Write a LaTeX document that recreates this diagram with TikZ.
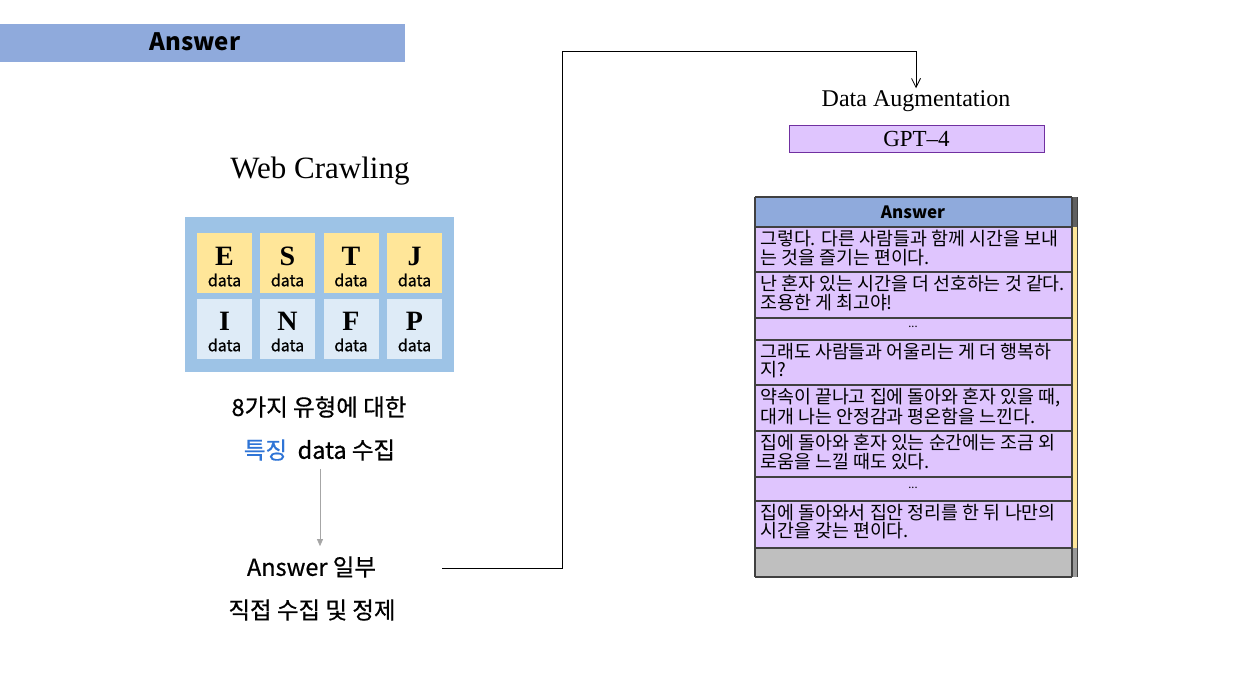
\documentclass[tikz,border=0pt]{standalone}
\usepackage{fontspec}
\setmainfont{Liberation Serif}
\newfontfamily\kr{Noto Sans CJK KR}
\newfontfamily\krb[FakeBold=0.6]{Noto Sans CJK KR}
\usetikzlibrary{arrows.meta}
\definecolor{banner}{HTML}{8FAADC}
\definecolor{outerbox}{HTML}{9DC3E6}
\definecolor{cellyel}{HTML}{FFE699}
\definecolor{cellblu}{HTML}{DEEBF7}
\definecolor{lav}{HTML}{DFC5FE}
\definecolor{purp}{HTML}{7030A0}
\definecolor{tline}{HTML}{404040}
\definecolor{featblue}{HTML}{2E74D6}
\definecolor{botgray}{HTML}{BFBFBF}
\tikzset{
  cellbox/.style={minimum width=55pt,minimum height=60pt,inner sep=0pt,draw=none},
  letter/.style={font=\fontsize{28}{28}\selectfont\bfseries,inner sep=0pt},
  datalbl/.style={font=\krb\fontsize{16}{16}\selectfont,inner sep=0pt},
  krtext/.style={font=\krb\fontsize{23.5}{23.5}\selectfont,inner sep=0pt},
  rowtxt/.style={font=\kr\fontsize{18.4}{18.5}\selectfont,inner sep=0pt,anchor=north west,align=left},
  dots/.style={font=\kr\fontsize{11}{11}\selectfont,inner sep=0pt},
  rowline/.style={draw=tline,line width=1.2pt},
}
\begin{document}
\begin{tikzpicture}[x=1pt,y=-1pt]
\useasboundingbox (0,0) rectangle (1250,690);
% top banner
\fill[banner] (0,24) rectangle (405,62);
\node[font=\kr\fontsize{24}{24}\selectfont\bfseries,inner sep=0pt] (title) at (195,42) {Answer};
% web crawling
\node[font=\fontsize{31}{31}\selectfont,inner sep=0pt] (web) at (320,171) {Web Crawling};
\fill[outerbox] (185,217) rectangle (454,372);
\foreach \x/\L/\n in {224.5/E/e,287.5/S/s,351/T/t,414.5/J/j}{
  \node[cellbox,fill=cellyel] (c\n) at (\x,263) {};
  \node[letter] (l\n) at (\x,256) {\L};
  \node[datalbl] (d\n) at (\x,280) {data};
}
\foreach \x/\L/\n in {224.5/I/i,287.5/N/n,351/F/f,414.5/P/p}{
  \node[cellbox,fill=cellblu] (c\n) at (\x,328.5) {};
  \node[letter] (l\n) at (\x,321) {\L};
  \node[datalbl] (d\n) at (\x,345) {data};
}
\node[krtext] (eight) at (319,407) {8가지 유형에 대한};
\node[krtext] (feat) at (319.5,450) {\textcolor{featblue}{특징}\ \ data 수집};
\node[krtext] (ans) at (311.5,567) {Answer 일부};
\node[krtext] (direct) at (312,610) {직접 수집 및 정제};
\draw[draw=gray!70,line width=0.8pt,-{Triangle[length=7pt,width=6pt]},shorten <=8pt,shorten >=10pt] (feat.south -| 320,0) -- (ans.north -| 320,0);
% augmentation
\node[font=\fontsize{24}{24}\selectfont,inner sep=2pt] (aug) at (916,101) {Data Augmentation};
\node[draw=purp,fill=lav,line width=0.8pt,minimum width=255pt,minimum height=27pt,inner sep=0pt,font=\fontsize{23}{23}\selectfont] (gpt) at (916.5,138.5) {GPT--4};
\coordinate (c0) at (442,568);
\coordinate (c1) at (562,568);
\coordinate (c2) at (562,51);
\coordinate (c3) at (916,51);
\draw[line width=0.8pt,-{Straight Barb[length=9pt,width=9pt]}] (c0) -- (c1) -- (c2) -- (c3) -- (aug.north);
% table
\fill[banner] (755,197) rectangle (1072,227);
\fill[lav] (755,227) rectangle (1072,548);
\fill[botgray] (755,548) rectangle (1072,577);
\fill[gray!75!black] (1072,197) rectangle (1077,227);
\fill[cellyel] (1072,227) rectangle (1077,548);
\fill[botgray!80!black] (1072,548) rectangle (1077,577);
\foreach \y in {197,227,272,318,340,385,431,477,501,548,577}{
  \draw[rowline] (755,\y) -- (1072,\y);
}
\draw[rowline] (755,197) -- (755,577);
\draw[rowline] (1072,197) -- (1072,577);
\draw[draw=tline,line width=0.8pt] (1077,197) -- (1077,577);
\node[font=\kr\fontsize{17}{17}\selectfont\bfseries,inner sep=0pt] (thead) at (913,212) {Answer};
\node[rowtxt] (r1) at (760,230) {그렇다. 다른 사람들과 함께 시간을 보내\\는 것을 즐기는 편이다.};
\node[rowtxt] (r2) at (760,275) {난 혼자 있는 시간을 더 선호하는 것 같다.\\조용한 게 최고야!};
\node[rowtxt] (r4) at (760,343) {그래도 사람들과 어울리는 게 더 행복하\\지?};
\node[dots] (r3) at (913,327) {...};
\node[rowtxt] (r5) at (760,388) {약속이 끝나고 집에 돌아와 혼자 있을 때,\\대개 나는 안정감과 평온함을 느낀다.};
\node[rowtxt] (r6) at (760,434) {집에 돌아와 혼자 있는 순간에는 조금 외\\로움을 느낄 때도 있다.};
\node[dots] (r7) at (913,488) {...};
\node[rowtxt] (r8) at (760,504) {집에 돌아와서 집안 정리를 한 뒤 나만의\\시간을 갖는 편이다.};
\end{tikzpicture}
\end{document}
